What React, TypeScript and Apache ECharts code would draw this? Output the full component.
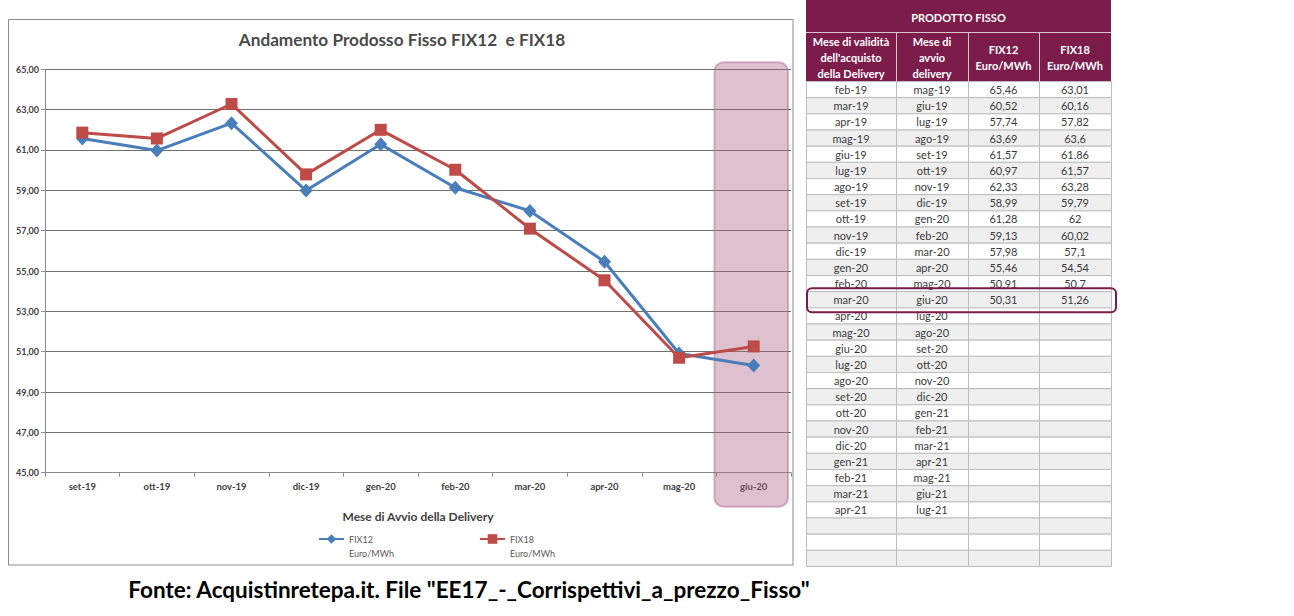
import { useEffect, useRef } from 'react';
import * as echarts from 'echarts';

// chart data (Mese di avvio delivery)
const months = ['set-19', 'ott-19', 'nov-19', 'dic-19', 'gen-20', 'feb-20', 'mar-20', 'apr-20', 'mag-20', 'giu-20'];
const fix12 = [61.57, 60.97, 62.33, 58.99, 61.28, 59.13, 57.98, 55.46, 50.91, 50.31];
const fix18 = [61.86, 61.57, 63.28, 59.79, 62, 60.02, 57.1, 54.54, 50.7, 51.26];
const highlightMonth = 'giu-20';
const yMin = 45;
const yMax = 65;
const yStep = 2;

// table data
const tableTitle = 'PRODOTTO FISSO';
const tableHeaders = ["Mese di validità\ndell'acquisto\ndella Delivery", 'Mese di\navvio\ndelivery', 'FIX12\nEuro/MWh', 'FIX18\nEuro/MWh'];
const validityMonths = [
  'feb-19', 'mar-19', 'apr-19', 'mag-19', 'giu-19', 'lug-19', 'ago-19', 'set-19', 'ott-19', 'nov-19',
  'dic-19', 'gen-20', 'feb-20', 'mar-20', 'apr-20', 'mag-20', 'giu-20', 'lug-20', 'ago-20', 'set-20',
  'ott-20', 'nov-20', 'dic-20', 'gen-21', 'feb-21', 'mar-21', 'apr-21', '', '', '',
];
const startMonths = [
  'mag-19', 'giu-19', 'lug-19', 'ago-19', 'set-19', 'ott-19', 'nov-19', 'dic-19', 'gen-20', 'feb-20',
  'mar-20', 'apr-20', 'mag-20', 'giu-20', 'lug-20', 'ago-20', 'set-20', 'ott-20', 'nov-20', 'dic-20',
  'gen-21', 'feb-21', 'mar-21', 'apr-21', 'mag-21', 'giu-21', 'lug-21', '', '', '',
];
const tableFix12 = [65.46, 60.52, 57.74, 63.69, 61.57, 60.97, 62.33, 58.99, 61.28, 59.13, 57.98, 55.46, 50.91, 50.31];
const tableFix18 = [63.01, 60.16, 57.82, 63.6, 61.86, 61.57, 63.28, 59.79, 62, 60.02, 57.1, 54.54, 50.7, 51.26];
const highlightRow = 13;

const caption = 'Fonte: Acquistinretepa.it. File "EE17_-_Corrispettivi_a_prezzo_Fisso"';

const FONT = 'Lato, "DejaVu Sans", sans-serif';
const MAROON = '#7b1c4b';
const BLUE = '#4a7ebb';
const RED = '#be4b48';

const fmt = (v: number) => String(v).replace('.', ',');

function buildTable() {
  const cols = [806, 896, 968, 1039, 1111];
  const rowTop = 81;
  const rowH = (566 - rowTop) / validityMonths.length;
  const els: any[] = [];
  els.push({ type: 'rect', shape: { x: cols[0], y: 0, width: cols[4] - cols[0], height: rowTop }, style: { fill: MAROON } });
  els.push({ type: 'line', shape: { x1: cols[0], y1: 32.5, x2: cols[4], y2: 32.5 }, style: { stroke: '#d9c3ce', lineWidth: 1 } });
  for (let j = 1; j < 4; j++) {
    els.push({ type: 'line', shape: { x1: cols[j] + 0.5, y1: 32.5, x2: cols[j] + 0.5, y2: rowTop }, style: { stroke: '#d9c3ce', lineWidth: 1 } });
  }
  els.push({
    type: 'text', x: (cols[0] + cols[4]) / 2, y: 17,
    style: { text: tableTitle, fill: '#fff', font: `bold 11px ${FONT}`, align: 'center', verticalAlign: 'middle' },
  });
  tableHeaders.forEach((h, j) => {
    els.push({
      type: 'text', x: (cols[j] + cols[j + 1]) / 2, y: 57,
      style: { text: h, fill: '#fff', font: `bold 11px ${FONT}`, lineHeight: 16, align: 'center', verticalAlign: 'middle' },
    });
  });
  validityMonths.forEach((m, i) => {
    const y = rowTop + i * rowH;
    const cells = [m, startMonths[i], tableFix12[i] != null ? fmt(tableFix12[i]) : '', tableFix18[i] != null ? fmt(tableFix18[i]) : ''];
    cells.forEach((c, j) => {
      els.push({
        type: 'rect',
        shape: { x: cols[j] + 0.5, y: y + 0.5, width: cols[j + 1] - cols[j], height: rowH },
        style: { fill: i % 2 ? '#efefef' : '#ffffff', stroke: '#bdbdbd', lineWidth: 1 },
      });
      if (c) {
        els.push({
          type: 'text', x: (cols[j] + cols[j + 1]) / 2, y: y + rowH / 2 + 0.5,
          style: { text: c, fill: '#3a3a3a', font: `11px ${FONT}`, align: 'center', verticalAlign: 'middle' },
        });
      }
    });
  });
  const hy = rowTop + highlightRow * rowH;
  els.push({
    type: 'rect', z: 10,
    shape: { x: cols[0] + 1, y: hy - 3, width: cols[4] - cols[0] + 4, height: rowH + 8, r: 5 },
    style: { fill: 'none', stroke: MAROON, lineWidth: 2 },
  });
  return els;
}

export default function App() {
  const chartRef = useRef<HTMLDivElement>(null);

  useEffect(() => {
    if (!chartRef.current) return;
    const chart = echarts.init(chartRef.current, null, { renderer: 'svg' });

    const option = {
      animation: false,
      backgroundColor: '#ffffff',
      textStyle: { fontFamily: FONT },
      title: {
        text: 'Andamento Prodosso Fisso FIX12  e FIX18',
        left: 402,
        top: 31,
        textAlign: 'center',
        padding: 0,
        textStyle: { fontFamily: FONT, fontSize: 17.2, fontWeight: 'bold', color: '#4a4a4a' },
      },
      legend: {
        left: 318,
        top: 518,
        padding: 0,
        itemWidth: 25,
        itemHeight: 12,
        itemGap: 80,
        data: ['FIX12', 'FIX18'],
        formatter: (name: string) => ' \n' + name + '\nEuro/MWh',
        textStyle: { fontFamily: FONT, fontSize: 9, color: '#5a5a5a', lineHeight: 14, width: 50 },
      },
      grid: { left: 45, right: 503, top: 69.3, bottom: 143.3, containLabel: false },
      xAxis: {
        type: 'category',
        data: months,
        boundaryGap: true,
        name: 'Mese di Avvio della Delivery',
        nameLocation: 'middle',
        nameGap: 38,
        nameTextStyle: { fontFamily: FONT, fontSize: 12, fontWeight: 'bold', color: '#404040' },
        axisLine: { lineStyle: { color: '#8c8c8c', width: 1 } },
        axisTick: { show: true, interval: 0, length: 4, lineStyle: { color: '#8c8c8c' } },
        axisLabel: { fontFamily: FONT, fontSize: 9.5, fontWeight: 'bold', color: '#404040', margin: 9 },
      },
      yAxis: {
        type: 'value',
        min: yMin,
        max: yMax,
        interval: yStep,
        axisLine: { show: true, lineStyle: { color: '#8c8c8c', width: 1 } },
        axisTick: { show: true, length: 4, lineStyle: { color: '#8c8c8c' } },
        axisLabel: {
          fontFamily: FONT, fontSize: 9, fontWeight: 'bold', color: '#404040', margin: 6,
          formatter: (v: number) => v.toFixed(2).replace('.', ','),
        },
        splitLine: { show: true, lineStyle: { color: '#6e6e6e', width: 1 } },
      },
      series: [
        {
          name: 'FIX12',
          type: 'line',
          data: fix12,
          symbol: 'diamond',
          symbolSize: [13, 14],
          lineStyle: { color: BLUE, width: 3 },
          itemStyle: { color: BLUE },
        },
        {
          name: 'FIX18',
          type: 'line',
          data: fix18,
          symbol: 'rect',
          symbolSize: 12,
          lineStyle: { color: RED, width: 3 },
          itemStyle: { color: RED },
        },
      ],
    };
    chart.setOption(option);

    // highlight band for the last start month
    const gx = chart.convertToPixel({ xAxisIndex: 0 }, highlightMonth) as number;
    const step = (chart.convertToPixel({ xAxisIndex: 0 }, months[1]) as number) - (chart.convertToPixel({ xAxisIndex: 0 }, months[0]) as number);
    const yTop = chart.convertToPixel({ yAxisIndex: 0 }, yMax) as number;
    const yBottom = chart.convertToPixel({ yAxisIndex: 0 }, yMin) as number;

    chart.setOption({
      graphic: [
        {
          type: 'rect', z: -1,
          shape: { x: 8.5, y: 19.5, width: 784.5, height: 545.5 },
          style: { fill: 'none', stroke: '#8c8c8c', lineWidth: 1 },
        },
        {
          type: 'rect', z: 1,
          shape: { x: gx - step / 2 - 2, y: yTop - 7, width: step - 1, height: yBottom - yTop + 41, r: 9 },
          style: { fill: 'rgba(170,100,135,0.4)', stroke: 'rgba(170,100,135,0.45)', lineWidth: 2 },
        },
        ...buildTable(),
        {
          type: 'text', x: 469, y: 589,
          style: { text: caption, fill: '#000', font: `bold 22.5px ${FONT}`, align: 'center', verticalAlign: 'middle' },
        },
      ],
    });

    return () => chart.dispose();
  }, []);

  return <div ref={chartRef} style={{ position: 'fixed', left: 0, top: 0, width: 1294, height: 616 }} />;
}
